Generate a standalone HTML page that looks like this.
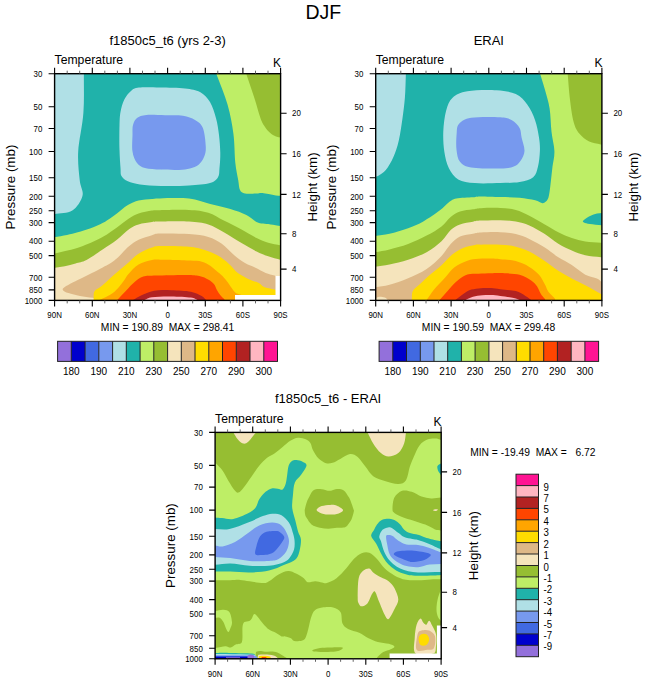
<!DOCTYPE html>
<html><head><meta charset="utf-8"><title>DJF Temperature</title>
<style>html,body{margin:0;padding:0;background:#fff;}svg{display:block;}</style></head>
<body><svg width="647" height="683" viewBox="0 0 647 683" font-family="'Liberation Sans', Arial, Helvetica, sans-serif" fill="#000">
<clipPath id="c1"><rect x="54.6" y="73.7" width="226" height="226.7"/></clipPath>
<g clip-path="url(#c1)">
<rect x="54.6" y="73.7" width="226" height="226.7" fill="#20B2AA"/>
<path d="M40 60L83.9 60C83.9 60 84.1 59.8 83.9 73C83.7 86.2 84.4 99.6 83.4 112.7C82.5 125.8 78.8 140.4 78.2 151.6C77.6 162.8 79 172.6 79.7 180C80.4 187.4 83.7 190.7 82.5 195.8C81.3 200.9 77 207.5 72.3 210.6C67.5 213.7 60.1 213.1 54 214.3C47.9 215.5 40 215 40 215L40 60Z" fill="#B0E0E6"/>
<path d="M124.2 99.7C126 96.2 128.5 93 131 91C133.5 89 134.2 88.2 139 87.6C143.8 87 152.3 87.4 160 87.5C167.7 87.6 178.3 87.7 185 88.4C191.7 89.2 195.8 89.7 200 92C204.2 94.3 207.3 97.6 210 102C212.7 106.4 214.5 112.8 216 118.3C217.5 123.8 218.3 129.2 219 135C219.7 140.8 220.2 147.5 220.3 153C220.4 158.5 219.9 164 219.5 168C219.1 172 219.6 174.7 218 177.2C216.4 179.7 214.8 181.6 210 183C205.2 184.4 197.2 185 189 185.5C180.8 186 169.2 186.1 161 185.9C152.8 185.7 145.5 185.3 140 184.5C134.5 183.7 131 182.7 127.9 181.3C124.8 179.9 122.7 178.2 121.5 176C120.3 173.8 120.8 172.3 120.5 168C120.2 163.7 119.7 157.1 119.5 150C119.3 142.9 119.3 131.9 119.5 125.6C119.7 119.3 119.7 116.3 120.5 112C121.3 107.7 122.5 103.2 124.2 99.7Z" fill="#B0E0E6"/>
<path d="M133 125C133.8 122.2 134.8 119.7 137 118C139.2 116.3 141.7 115.5 146.4 115C151.1 114.5 158.9 115.2 165 115.3C171.1 115.4 178 115 183 115.8C188 116.6 191.7 118 195 120C198.3 122 201.1 123.5 202.9 128C204.7 132.5 205.6 142.2 205.8 147C206 151.8 205.2 154.1 204 157C202.8 159.9 200.9 162.8 198.6 164.7C196.3 166.6 193.3 167.6 190 168.5C186.7 169.4 183.8 169.7 179 169.9C174.2 170.1 166.7 169.9 161 169.6C155.3 169.3 149 169.1 145 168C141 166.9 139.1 165.7 137 163C134.9 160.3 133.2 156.3 132.5 151.6C131.8 146.9 132.4 139.4 132.5 135C132.6 130.6 132.2 127.8 133 125Z" fill="#7799EE"/>
<path d="M216 60L290 60L290 195.5C290 195.5 280.4 196.3 275.9 195.5C271.4 194.7 265.6 193.3 262.4 193C259.2 192.7 259.5 193.4 256.6 193.5C253.7 193.6 247.8 194.1 245 193.5C242.2 192.9 241.1 192.2 240 190C238.9 187.8 239 184.6 238.2 180C237.4 175.4 236.1 170.4 235.3 162.7C234.5 155 234.7 143.5 233.4 133.8C232.1 124.2 230.5 114.9 227.6 104.8C224.7 94.7 219.9 83.6 216 73C212.1 62.4 214 60 214 60L216 60Z" fill="#BEEE66"/>
<path d="M244 60C244 60 243.1 64.3 246 73C248.9 81.7 252.3 91.5 254.7 99C257.1 106.5 258.8 113.6 260.5 118.3C262.2 123 263.4 124.6 265 127C266.6 129.4 268.2 131.2 270 132.8C271.8 134.4 274 135.7 276 136.5C278 137.3 280 137.2 282 137.6C284 138 290 137.6 290 137.6L290 60L244 60Z" fill="#96BE32"/>
<path d="M40 237.3C40 237.3 49.7 238.1 54 237.3C58.3 236.5 63 235.8 67 235C71 234.2 74 233.4 77.8 232.3C81.6 231.2 85.8 230.1 90 228.5C94.2 226.9 99.7 224.5 103 222.8C106.3 221.1 107.7 220.1 110 218.5C112.3 216.9 114.7 215.2 116.9 213.5C119.1 211.8 120.9 210 123 208.5C125.1 207 126.7 205.7 129.3 204.3C131.9 203 134.8 201.3 138.6 200.4C142.4 199.5 148.4 199.2 152 198.9C155.6 198.6 153.8 198.5 160 198.4C166.2 198.3 180.6 197.7 189 198.6C197.4 199.5 203.4 202.3 210.3 204.1C217.2 205.8 224.4 207.3 230.4 209.1C236.4 210.9 242.1 212.9 246.4 215.1C250.8 217.2 253.7 220.6 256.5 222C259.3 223.4 260.6 223.2 263 223.6C265.4 224 267.4 224 270.6 224.4C273.8 224.8 278.2 225.6 282 226.2C285.8 226.8 290 226.2 290 226.2L290 310L40 310L40 237.3Z" fill="#BEEE66"/>
<path d="M40 253.5C40 253.5 50.8 254.3 55 253.4C59.2 252.5 62.9 251.8 67.5 250.6C72.2 249.4 77 248.3 82.9 246C88.8 243.7 97.3 239.8 103 236.7C108.7 233.6 112.5 230.6 116.9 227.5C121.3 224.4 125.7 220.5 129.3 218.2C132.9 215.9 134.8 214.8 138.6 213.5C142.4 212.2 148.4 211.1 152 210.5C155.6 209.9 153.8 210.3 160 210.2C166.2 210.1 180.9 209.6 189 210C197.1 210.4 202.5 211 208.3 212.8C214.1 214.6 218.3 217.8 223.8 220.6C229.3 223.3 235.6 226.4 241.1 229.3C246.6 232.2 252.1 235.8 256.6 238C261.1 240.2 264 241.5 268.2 242.8C272.4 244.1 277.4 244.7 282 245.7C286.6 246.7 290 245.7 290 245.7L290 310L40 310L40 253.5Z" fill="#96BE32"/>
<path d="M40 267.9C40 267.9 51.7 268.3 55 267.8C58.3 267.3 61.4 266.9 64.8 266.2C68.2 265.5 72 264.4 75.6 263.4C79.2 262.4 81.9 262.4 86.5 260C91.1 257.6 97.9 252.7 103 249.3C108.1 245.9 112.5 243.2 116.9 239.8C121.3 236.4 125.7 231.6 129.3 229C132.9 226.4 134.8 225.6 138.6 224.4C142.4 223.2 148.4 222.5 152 222C155.6 221.5 153.8 221.6 160 221.5C166.2 221.4 180.9 221 189 221.5C197.1 222 202.5 222.6 208.3 224.4C214.1 226.2 218.3 229.1 223.8 232.2C229.3 235.3 235.6 239.6 241.1 242.8C246.6 246 252.1 249.2 256.6 251.5C261.1 253.8 264 254.9 268.2 256.3C272.4 257.8 277.4 258.9 282 260.2C286.6 261.5 290 260.2 290 260.2L290 310L40 310L40 267.9Z" fill="#F5E4BC"/>
<path d="M62.7 289.2C63 287.6 67.2 285.6 70.2 283.8C73.2 282 77.4 280.2 81 278.4C84.6 276.6 88.3 274.8 91.9 273C95.5 271.2 99.7 269 102.7 267.4C105.7 265.8 107.5 265.1 110 263.5C112.5 261.9 115.6 259.6 117.9 257.5C120.2 255.4 122.1 252.9 124 251C125.9 249.1 126.9 247.9 129.3 246C131.7 244.1 134.8 241.6 138.6 239.8C142.4 238 148.4 236.2 152 235.2C155.6 234.2 153.8 233.8 160 233.6C166.2 233.4 180.9 233.5 189 234.1C197.1 234.7 202.8 235.4 208.3 237C213.8 238.6 217.6 240.9 221.8 243.8C226 246.7 229.5 251.2 233.4 254.4C237.3 257.6 241.3 260.9 245 263.1C248.7 265.3 252.1 266.2 255.5 267.8C258.9 269.4 262.5 271.6 265.7 272.9C268.9 274.2 271.6 274.6 274.6 275.4C277.6 276.2 276 280 276 280L276 310L93 310C93 310 96.9 298.4 92.7 297.8C88.5 297.2 84 296.8 80 296C76 295.2 71.4 294.2 68.5 293.1C65.6 292 62.4 290.8 62.7 289.2Z" fill="#DEB887"/>
<path d="M93.6 310C93.6 310 93.3 302.9 93.6 300C93.9 297.1 93.1 293.7 94.5 291.3C95.9 288.9 98.7 288.4 101.9 285.7C105.1 283 109.8 278.5 113.8 275C117.8 271.5 122.1 268.2 126.2 264.6C130.3 261.1 134.3 256.5 138.6 253.7C142.9 250.9 148.4 248.9 152 247.6C155.6 246.3 153.8 246.2 160 246C166.2 245.8 181.5 246 189 246.7C196.5 247.4 200 248.5 204.8 250C209.6 251.5 213.8 253.3 217.8 255.6C221.8 257.9 225.6 261 229 263.9C232.4 266.8 234.7 270.6 238.2 273.2C241.7 275.8 246.6 278 250 279.7C253.4 281.4 256.6 281.9 258.9 283.1C261.2 284.3 261.4 285.8 264 286.9C266.6 287.9 271.1 288.6 274.6 289.4C278.1 290.2 276 295 276 295L276 310L93.6 310Z" fill="#FFDC00"/>
<path d="M99 310C99 310 97.3 301 99.5 300C101.7 299 103.7 298.2 106 297C108.3 295.8 111.3 294.2 113.5 292.5C115.7 290.8 117.2 289 119 287C120.8 285 122.4 282.8 124 280.6C125.6 278.4 126.1 276.7 128.5 274C130.9 271.3 134.7 267 138.6 264.6C142.5 262.2 147.6 260.7 152 259.9C156.4 259.1 159.2 259.7 165 259.8C170.8 259.9 180.9 260.2 186.6 260.4C192.3 260.6 195.6 260.4 199.3 261.1C203 261.8 205.8 263.2 208.6 264.8C211.4 266.4 213.7 268.5 216 270.4C218.3 272.3 220.7 274.1 222.5 276C224.3 277.9 225.6 279.5 227.1 281.5C228.6 283.5 230.3 286.1 231.7 288C233.1 289.9 234.1 291.6 235.5 292.7C236.9 293.8 238.6 293.9 240.1 294.5C241.6 295.1 245 297 245 297L245 310L99 310Z" fill="#FFA500"/>
<path d="M117.3 310C117.3 310 114.4 303.1 117.3 300C120.2 296.9 123.1 293.7 126 290.7C128.9 287.7 131.7 284.4 134.6 282C137.5 279.6 139.7 277.7 143.3 276.6C146.9 275.5 149.1 275.9 156.3 275.6C163.5 275.3 179.4 274.8 186.6 274.9C193.8 275 195.6 275.2 199.3 276C203 276.8 206.1 278.3 208.6 279.7C211.1 281.1 212.7 282.6 214.1 284.3C215.5 286 215.8 288 216.9 289.9C218 291.8 219.4 293.9 220.6 295.5C221.8 297.1 223.1 298 224.3 299.2C225.5 300.4 225 310 225 310L117.3 310Z" fill="#FF4500"/>
<path d="M132.5 310C132.5 310 130.3 301.5 133 300C135.7 298.5 137.5 297.1 141 295.5C144.5 293.9 149 291.6 154.1 290.7C159.2 289.8 165.3 290.1 171.4 290.3C177.5 290.5 185.9 290.8 190.9 291.8C195.9 292.8 199.2 294.7 201.7 296.1C204.2 297.5 204.6 298.7 206 300C207.4 301.3 206 310 206 310L132.5 310Z" fill="#B22222"/>
<path d="M144.4 310C144.4 310 141.9 300.9 144.4 300C146.9 299.1 147.4 297.8 151.9 297.2C156.4 296.6 164.9 296.4 171.4 296.5C177.9 296.6 186.6 297 190.9 297.6C195.2 298.2 195.2 299.2 197.4 300C199.6 300.8 197.4 310 197.4 310L144.4 310Z" fill="#FFB6C1"/>
<path d="M235 295L275.5 295L275.5 276L290 276L290 310L235 310L235 295Z" fill="#fff"/>
</g>
<clipPath id="c2"><rect x="375.7" y="73.7" width="226.2" height="226.7"/></clipPath>
<g clip-path="url(#c2)">
<rect x="375.7" y="73.7" width="226.2" height="226.7" fill="#20B2AA"/>
<path d="M365 60L405.9 60C405.9 60 406.2 64.7 405.9 73C405.6 81.3 405.5 90.3 404.9 97.8C404.3 105.3 403.5 111.1 402.5 118.2C401.5 125.3 400.3 134 398.8 140.5C397.3 147 395.5 152.3 393.3 157.2C391.1 162.1 388.3 167 385.8 170.1C383.3 173.2 380.2 174.6 378.4 175.7C376.6 176.8 376.1 176.3 375 176.6C373.9 176.9 365 176.6 365 176.6L365 60Z" fill="#B0E0E6"/>
<path d="M446.1 110.8C447.7 105.2 449.1 101 452.6 97.8C456.2 94.5 460.1 92.5 467.4 91.3C474.7 90 488.4 89.8 496.5 90.3C504.6 90.8 510.6 91.7 515.8 94.1C520.9 96.5 524.2 100.4 527.4 104.8C530.6 109.2 533.2 114.7 535.1 120.2C537 125.7 538.2 132.4 539 137.6C539.8 142.8 540.1 146.3 539.9 151.1C539.7 155.9 539.1 162.2 538 166.6C536.9 170.9 536.3 174.6 533.2 177.2C530.1 179.8 525.1 181.1 519.6 182.1C514.1 183.1 507.8 182.8 500.3 183C492.9 183.2 481.9 183.7 474.9 183.1C467.9 182.5 462.5 181.9 458.2 179.4C453.9 176.9 451.2 172.9 448.9 168.3C446.6 163.7 445.2 157.8 444.3 151.6C443.4 145.4 443 138 443.3 131.2C443.6 124.4 444.6 116.4 446.1 110.8Z" fill="#B0E0E6"/>
<path d="M456.7 133C457.1 128.7 456.7 126.3 459.1 123.8C461.5 121.3 464.2 118.9 471.1 117.8C478 116.7 493.5 116.9 500.3 117.3C507.1 117.7 508.7 118.4 511.9 120.2C515.1 122 518 125.1 519.6 128C521.2 130.9 520.8 133.8 521.6 137.6C522.4 141.4 524.7 147.2 524.5 151.1C524.3 155 522.4 158.2 520.6 160.8C518.8 163.4 517.2 165.3 513.8 166.6C510.4 167.9 507.4 168.4 500.3 168.5C493.2 168.6 477.8 168.5 471.1 167.4C464.4 166.3 462.4 164.8 460 161.8C457.6 158.9 457.1 154.5 456.5 149.7C455.9 144.9 456.3 137.3 456.7 133Z" fill="#7799EE"/>
<path d="M538 60C538 60 538.3 67.6 539.9 73C541.5 78.4 543.2 83.4 544.8 89.3C546.4 95.2 548.5 101.5 549.6 108.6C550.7 115.7 550.7 124.7 551.5 131.8C552.3 138.9 554.2 145.3 554.4 151.1C554.6 156.9 553.1 161.8 552.5 166.6C551.9 171.4 551.5 175.8 551 180C550.5 184.2 550.1 188.4 549.6 191.6C549.1 194.8 548.8 197.4 547.7 199.3C546.6 201.2 544.9 203 542.8 203.2C540.7 203.4 539 201.2 535.1 200.3C531.2 199.4 525.4 198.4 519.6 197.8C513.8 197.2 506.7 197.2 500.3 197C493.9 196.8 485.6 196.4 481 196.4C476.4 196.4 477.1 196.8 473 197.2C468.9 197.5 460.3 197.7 456.3 198.5C452.3 199.3 451.7 200.3 448.9 202.3C446.1 204.3 443.9 207.4 439.6 210.6C435.3 213.8 428.1 218.8 422.9 221.7C417.6 224.6 413.7 226.2 408.1 228.2C402.5 230.2 395 232.5 389.5 233.8C384 235.1 379.8 235.3 375 236C370.2 236.7 365 236 365 236L365 310L610 310L610 60L538 60Z" fill="#BEEE66"/>
<path d="M583.4 220.6C584.4 219.5 587.7 217.2 590 216C592.3 214.8 594.8 214 597 213.5C599.2 213 601 213 603 212.8C605 212.6 608 212.8 608 212.8L608 225.4C608 225.4 607.3 225.9 603 225.4C598.7 224.9 593.2 224.5 590 224C586.8 223.5 585.1 223.1 584 222.5C582.9 221.9 582.4 221.7 583.4 220.6Z" fill="#20B2AA"/>
<path d="M566 60C566 60 566.8 64.3 567.6 73C568.4 81.7 568.9 90.8 569.9 99C570.9 107.2 572.1 116.4 573.7 122.2C575.3 128 576.9 130.6 579.5 133.8C582.1 137 585.7 139.7 589.2 141.5C592.8 143.3 596.9 143.4 600.8 144.4C604.7 145.4 610 144.4 610 144.4L610 60L566 60Z" fill="#96BE32"/>
<path d="M365 252.5C365 252.5 370.2 253.2 375 252.3C379.8 251.4 384 250.9 389.5 249.5C395 248.1 401.9 246.3 408.1 244C414.3 241.7 421 238.5 426.6 235.6C432.2 232.7 437.5 229.5 441.5 226.4C445.5 223.3 447.6 219.6 450.7 217.1C453.8 214.6 456.3 212.8 460 211.5C463.7 210.2 469.5 209.9 473 209.3C476.5 208.8 476.4 208.4 481 208.2C485.6 208 494.5 207.7 500.3 208C506.1 208.3 511 208.7 515.8 210C520.6 211.3 524.5 213.3 529.3 215.7C534.1 218.1 540 221.7 544.8 224.4C549.6 227.2 553.8 229.9 558.3 232.2C562.8 234.5 567.3 236.5 571.8 238C576.3 239.5 580.4 240.6 585.3 241.4C590.2 242.2 595.8 242.3 601 242.8C606.2 243.3 610 242.8 610 242.8L610 310L365 310L365 252.5Z" fill="#96BE32"/>
<path d="M365 267C365 267 370.2 267.6 375 266.8C379.8 266 384 265.6 389.5 264.4C395 263.2 401.9 261.7 408.1 259.7C414.3 257.7 421 255.4 426.6 252.3C432.2 249.2 437.5 244.9 441.5 241.2C445.5 237.5 447.6 232.9 450.7 230.1C453.8 227.3 456.3 225.9 460 224.5C463.7 223.1 469.5 222.3 473 221.7C476.5 221 476.4 220.8 481 220.6C485.6 220.3 494.5 220 500.3 220.2C506.1 220.3 511 220.6 515.8 221.5C520.6 222.4 524.5 223.3 529.3 225.4C534.1 227.5 540 231 544.8 234.1C549.6 237.2 553.8 241.1 558.3 243.8C562.8 246.5 567.3 248.6 571.8 250.5C576.3 252.4 580.4 254.2 585.3 255.3C590.2 256.4 595.8 256.6 601 257.3C606.2 258 610 257.3 610 257.3L610 310L365 310L365 267Z" fill="#F5E4BC"/>
<path d="M365 287.4C365 287.4 370.2 288 375 287.2C379.8 286.4 384 286.3 389.5 284.8C395 283.3 401.9 280.9 408.1 278.3C414.3 275.7 421 272.7 426.6 269C432.2 265.3 437.5 260.2 441.5 256C445.5 251.8 447.6 247.2 450.7 244C453.8 240.8 456.3 238.3 460 236.6C463.7 234.9 469.5 234.5 473 233.8C476.5 233.1 476.4 232.8 481 232.5C485.6 232.2 494.5 231.9 500.3 232.2C506.1 232.5 511 233 515.8 234.1C520.6 235.2 524.5 236.7 529.3 238.9C534.1 241.2 540 244.5 544.8 247.6C549.6 250.7 553.8 254.4 558.3 257.3C562.8 260.2 567.3 262.1 571.8 265C576.3 267.9 581.1 272.4 585.3 274.7C589.5 276.9 594.3 277.4 596.9 278.5C599.5 279.6 599.6 280.4 601 281.4C602.4 282.4 610 283 610 283L610 310L365 310L365 287.4Z" fill="#DEB887"/>
<path d="M376 301C374.3 300.4 376.2 298.2 377 297.5C377.8 296.8 379.5 296.7 381 296.8C382.5 296.9 384.8 297.3 385.8 298C386.8 298.7 388.6 300.5 387 301C385.4 301.5 377.7 301.6 376 301Z" fill="#F5E4BC"/>
<path d="M411.5 310C411.5 310 411.5 302.9 411.8 300C412.1 297.1 411.5 293.8 412.7 291.3C413.9 288.8 416.3 287.6 419.2 284.8C422.1 282 426.6 277.9 430.3 274.6C434 271.4 437.8 268.7 441.5 265.3C445.2 261.9 448.9 257.1 452.6 254.2C456.3 251.3 460 249.2 463.7 247.7C467.4 246.1 472 245.4 474.9 244.9C477.8 244.4 476.8 244.7 481 244.7C485.2 244.7 494.5 244.4 500.3 244.7C506.1 245 511 245.6 515.8 246.7C520.6 247.8 524.5 249.1 529.3 251.5C534.1 253.9 540 257.9 544.8 261.1C549.6 264.3 553.8 267.9 558.3 270.8C562.8 273.7 567.3 276.1 571.8 278.5C576.3 280.9 580.4 282.7 585.3 285.3C590.2 287.9 595.8 291.1 601 294C606.2 296.9 610 296 610 296L610 310L411.5 310Z" fill="#FFDC00"/>
<path d="M426.3 310C426.3 310 424.1 303.5 426.6 300C429.1 296.5 431 293.2 434.1 289.4C437.2 285.6 441.8 281.1 445.2 277.4C448.6 273.7 450.8 270 454.5 267.2C458.2 264.4 463.4 262.1 467.4 260.7C471.4 259.3 474.7 259.1 478.6 258.8C482.5 258.5 487.4 258.5 491 258.6C494.6 258.7 496.2 258.8 500.3 259.2C504.4 259.6 511 259.8 515.8 261.1C520.6 262.4 525.4 264.6 529.3 266.9C533.2 269.2 536.4 271.8 539 274.7C541.6 277.6 543.2 281.4 544.8 284.3C546.4 287.2 547 289.8 548.6 292.1C550.2 294.4 552.5 296 554.4 297.9C556.3 299.8 556 310 556 310L426.3 310Z" fill="#FFA500"/>
<path d="M439.3 310C439.3 310 436.5 303.5 439.6 300C442.7 296.5 445.8 292.7 448.9 289.4C452 286.1 455.1 282.6 458.2 280.1C461.3 277.6 464 275.7 467.4 274.6C470.8 273.5 474.7 273.9 478.6 273.7C482.5 273.5 487.4 273.4 491 273.3C494.6 273.2 495.5 272.9 500.3 273.1C505.1 273.3 514.5 273.5 519.6 274.7C524.8 275.9 528.3 278.6 531.2 280.5C534.1 282.4 535.4 284.1 537 286.3C538.6 288.6 539.6 291.9 540.9 294C542.2 296.1 543.5 297.2 544.8 298.8C546.1 300.4 546 310 546 310L439.3 310Z" fill="#FF4500"/>
<path d="M455.2 310C455.2 310 453.2 301.7 455.4 300C457.6 298.3 459.6 296.6 461.9 295C464.2 293.4 466.5 291.4 469.3 290.3C472.1 289.2 475 288.9 478.6 288.5C482.2 288.1 487.4 288 491 288.1C494.6 288.2 496.2 288.7 500.3 289.2C504.4 289.7 511.6 290 515.8 291.1C520 292.2 522.8 294.4 525.4 295.9C528 297.4 529.3 298.6 531.2 300C533.1 301.4 532 310 532 310L455.2 310Z" fill="#B22222"/>
<path d="M465.4 310C465.4 310 463.1 301.1 465.6 300C468.1 298.9 470.2 297.6 473 296.8C475.8 296 479.3 295.6 482.3 295.3C485.3 295 488 294.9 491 295C494 295.1 496.5 295.4 500.3 295.9C504.1 296.4 510.6 297.2 513.8 297.9C517 298.6 517.7 299.3 519.6 300C521.5 300.7 520 310 520 310L465.4 310Z" fill="#FFB6C1"/>
</g>
<clipPath id="c3"><rect x="215.1" y="432.4" width="226.1" height="226.4"/></clipPath>
<g clip-path="url(#c3)">
<rect x="215.1" y="432.4" width="226.1" height="226.4" fill="#96BE32"/>
<path d="M205 462.5C205 462.5 212.6 459.9 215 462.5C217.4 465.1 220.1 467.1 222.3 470.2C224.6 473.3 226.4 477.6 228.5 481C230.6 484.4 232.9 488.4 234.6 490.3C236.3 492.2 236.9 493.1 238.5 492.6C240.1 492.1 241.7 489.9 243.9 487.2C246.1 484.5 249 480 251.6 476.4C254.2 472.8 256.8 468.6 259.4 465.5C262 462.4 264.5 459.9 267.1 457.8C269.7 455.8 272.2 455 274.8 453.2C277.4 451.4 280 449.1 282.6 447C285.2 444.9 287.7 442.4 290.3 440.8C292.9 439.2 295.4 437.9 298 437.7C300.6 437.4 303.6 438.4 305.7 439.3C307.8 440.2 309.2 441.3 310.4 443.1C311.6 444.9 311.6 447.7 313 450.3C314.4 452.9 316.4 456.5 318.6 458.6C320.8 460.8 323.7 462.5 326 463.2C328.3 463.9 330.2 463.5 332.6 462.8C335 462.1 337.4 460.3 340.3 458.9C343.2 457.4 347.1 454.4 350 454.1C352.9 453.8 355.1 454.9 357.7 457C360.3 459.1 362.8 463.4 365.4 466.6C368 469.8 370 473.9 373.2 476.3C376.4 478.7 380.6 479.8 384.8 481.1C389 482.4 394.8 484.1 398.3 484C401.8 483.9 404.1 483.1 406 480.2C407.9 477.3 408.6 470.5 409.9 466.6C411.2 462.7 412.1 460.5 413.7 457C415.3 453.5 417.2 448.3 419.5 445.4C421.8 442.5 424.7 440.7 427.3 439.6C429.9 438.5 432.9 438.6 435 438.6C437.1 438.6 438.6 439.2 439.8 439.6C441 440 441.3 440.5 442 441C442.7 441.5 450 441 450 441L450 600L205 600L205 462.5Z" fill="#BEEE66"/>
<path d="M231 425C231 425 231.6 429.6 233.1 432C234.6 434.4 236 437.4 237.7 439.3C239.4 441.2 241.3 443.2 243.1 443.6C244.9 444 246.3 443.5 248.5 441.6C250.7 439.7 253.7 435.2 256.3 432C258.9 428.8 258 425 258 425L231 425Z" fill="#F5E4BC"/>
<path d="M366 425C366 425 365.5 428.2 367.4 432C369.3 435.8 370.9 440 373.2 443.5C375.4 447 378.3 450.9 380.9 453.1C383.5 455.3 385.7 456.6 388.6 456.6C391.5 456.6 395.7 455.3 398.3 453.1C400.9 450.9 402.8 447 404.1 443.5C405.4 440 405.4 435.8 406 432C406.6 428.2 407 425 407 425L366 425Z" fill="#F5E4BC"/>
<path d="M437.5 466C437 467.2 437.4 469 438 470.5C438.6 472 440 473.5 441 475C442 476.5 445 475 445 475L445 463.5C445 463.5 442.2 462.7 441 463.5C439.8 464.3 438 464.8 437.5 466Z" fill="#20B2AA"/>
<path d="M304.7 510C304.7 510 306.4 501.7 308.1 498.9C309.8 496.1 311.2 492 313.2 490.4C315.2 488.8 317.7 489 320 489C322.3 489 324.9 490.1 326.8 490.4C328.7 490.7 329.4 490.9 331.1 490.7C332.8 490.5 334.9 489.1 337 489C339.1 488.9 341.8 489 343.8 490.4C345.8 491.8 347.2 494.9 348.9 497.2C350.6 499.5 354 510.8 354 510.8C354 510.8 352.3 519 350.6 521C348.9 523 347.8 525.9 345.5 527C343.2 528.1 339.8 527.5 337 527.8C334.2 528.1 331.3 528.7 328.5 528.7C325.7 528.7 322.8 528.5 320 527.8C317.2 527.1 313.8 526.1 311.5 524.4C309.2 522.7 308.1 519.9 306.4 517.6C304.7 515.3 304.7 510 304.7 510Z" fill="#96BE32"/>
<path d="M316.6 510C316.6 508.8 319.4 507 321.7 506.1C324 505.2 327.6 505 330.2 504.9C332.8 504.8 334.9 504.8 337 505.7C339.1 506.6 342.7 508.7 343 510C343.3 511.3 340.8 512.6 338.7 513.4C336.6 514.2 333 514.6 330.2 514.6C327.4 514.6 324 514.2 321.7 513.4C319.4 512.6 316.6 511.2 316.6 510Z" fill="#F5E4BC"/>
<path d="M392.5 509.1C392.5 506.5 392.8 500.7 394.4 497.6C396 494.6 399.2 491.8 402.1 490.8C405 489.8 408.6 490.8 411.8 491.8C415 492.8 418.3 495.5 421.5 496.6C424.7 497.7 427.9 498.3 431.1 498.5C434.4 498.7 437.7 497.9 441 497.6C444.3 497.3 450 497.6 450 497.6L450 530.4C450 530.4 443 530.7 441 530.4C439 530.1 437.6 530.4 435 529.4C432.4 528.4 428.9 526 425.3 524.6C421.8 523.2 417.6 522 413.7 520.7C409.8 519.4 405.3 518.2 402.1 516.9C398.9 515.6 396 514.3 394.4 513C392.8 511.7 392.5 511.7 392.5 509.1Z" fill="#96BE32"/>
<path d="M433 510.2C432.8 509.9 434.2 509.3 435 509.2C435.8 509.1 437.8 509.3 438 509.6C438.2 509.9 436.8 510.9 436 511C435.2 511.1 433.2 510.5 433 510.2Z" fill="#F5E4BC"/>
<path d="M205 517.4C205 517.4 212.6 517.2 215 517.4C217.4 517.6 219 517.8 222.1 518C225.2 518.2 229 519.7 233.3 518.9C237.6 518.1 244.4 515.2 248.1 513.3C251.8 511.4 253.6 510.1 255.5 507.7C257.4 505.3 257.7 501.6 259.4 499C261.1 496.4 263.6 493.6 265.6 491.8C267.7 490 269.6 488.9 271.7 488.4C273.8 487.9 276.1 488.5 277.9 488.7C279.7 488.9 281.3 490.3 282.6 489.5C283.9 488.7 284.8 486.6 285.6 484.1C286.4 481.7 286.7 477.9 287.2 474.8C287.7 471.7 287.9 467.8 288.7 465.5C289.5 463.2 290.7 461.9 292 461C293.3 460.1 294.7 460 296.5 460.1C298.3 460.2 300.9 460.8 302.6 461.7C304.3 462.6 306.8 463.3 306.5 465.5C306.2 467.7 303 471.9 301.1 474.8C299.2 477.7 296.2 479.3 294.9 482.6C293.5 485.9 293.4 490.6 293 494.8C292.6 499 291.8 503.4 292.2 507.7C292.6 512 294.4 516.7 295.4 520.7C296.4 524.7 297.3 528.9 298.2 531.9C299.1 534.9 300.6 536.1 300.9 539C301.2 541.9 300.7 546 299.9 549.3C299.1 552.6 298.6 556.4 296 559C293.4 561.6 288.9 562.9 284.4 564.8C279.9 566.7 274.8 569.3 269 570.6C263.2 571.9 256.1 572.4 249.6 572.5C243.2 572.6 236.1 571.7 230.3 571.5C224.5 571.3 220.1 571.5 215 571.5C209.9 571.5 205 571.5 205 571.5L205 517.4Z" fill="#20B2AA"/>
<path d="M205 529.1C205 529.1 210.2 529.1 215 529.1C219.8 529.1 224 530.2 229.5 529.1C235 528 242.5 524.8 248.1 522.6C253.7 520.4 258.9 517.6 262.9 516.1C266.9 514.6 269.1 513.9 272.2 513.7C275.3 513.6 278.7 513.7 281.5 515.2C284.3 516.7 287 519.8 288.9 522.6C290.8 525.4 291.7 529 292.6 531.9C293.5 534.8 294.2 537.1 294.5 540C294.8 542.9 294.8 546.5 294.1 549.3C293.4 552.1 291.8 554.9 290.2 557C288.6 559.1 287.9 560.4 284.4 561.9C280.9 563.4 274.8 565.1 269 565.7C263.2 566.3 256.1 566.1 249.6 565.7C243.2 565.3 236.1 563.6 230.3 563.5C224.5 563.4 220.1 564.4 215 564.8C209.9 565.2 205 564.8 205 564.8L205 529.1Z" fill="#B0E0E6"/>
<path d="M205 545.5C205 545.5 212.5 545.2 215 545.5C217.5 545.8 219.3 547 222.6 546.4C225.9 545.8 230.8 544.2 235 542C239.2 539.8 244.1 535.8 248.1 533C252.1 530.2 255.2 527.1 259.2 525.4C263.2 523.7 268.5 522.6 272.2 522.6C275.9 522.6 279 523.5 281.5 525.4C284 527.2 285.8 531 287 533.7C288.2 536.4 289.1 538.7 289 541.6C288.9 544.5 288.1 548.4 286.4 551.3C284.7 554.2 281.5 557.4 278.6 559C275.7 560.6 273.8 560.6 269 560.9C264.2 561.2 256.1 561.4 249.6 560.9C243.2 560.4 236.1 558.6 230.3 558C224.5 557.4 220.1 557.3 215 557C209.9 556.7 205 557 205 557L205 545.5Z" fill="#7799EE"/>
<path d="M255.4 554.2C254.5 552.7 255.8 548.8 256.5 546C257.1 543.2 258.2 539.8 259.3 537.7C260.4 535.6 261.6 534.5 263 533.5C264.4 532.5 266 531.9 268 531.5C270 531.1 272.9 530.9 274.8 531C276.7 531.1 278 530.9 279.6 531.9C281.2 532.9 284 535.1 284.3 537C284.6 538.9 283.1 540.6 281.5 543C279.9 545.4 276.9 549.4 274.8 551.3C272.7 553.2 271.1 553.6 269 554.2C266.9 554.8 264.3 555 262 555C259.7 555 256.3 555.7 255.4 554.2Z" fill="#4169E1"/>
<path d="M371.2 535.9C370.8 533.6 373 531.9 374 530C375 528.1 375.8 526.2 377 524.6C378.2 523 379.4 521.5 381 520.5C382.6 519.5 384.5 518.9 386.7 518.8C388.9 518.7 392.1 519 394.4 520C396.6 521 398.6 522.9 400.2 524.5C401.8 526.1 402.6 528.4 404.2 529.8C405.8 531.2 407.6 532.3 409.9 533.1C412.2 533.9 415.4 534.1 418 534.8C420.6 535.5 422.2 536.5 425.3 537.5C428.4 538.5 434.3 539.9 436.9 540.5C439.5 541.1 439.6 541 441 541.2C442.4 541.4 450 541.2 450 541.2L450 575C450 575 443.6 574.8 441 575C438.4 575.2 436.9 575.4 433.1 575.5C429.3 575.6 422.1 575.8 418 575.7C413.9 575.6 411.5 575.6 408.3 574.9C405.1 574.2 401.4 573 398.6 571.7C395.8 570.4 393.5 568.6 391.3 566.9C389.1 565.1 387.4 563.5 385.7 561.2C384 558.9 382.5 556.2 380.9 553.2C379.3 550.2 377.7 546.4 376.1 543.5C374.5 540.6 371.6 538.1 371.2 535.9Z" fill="#20B2AA"/>
<path d="M379.3 536.3C379.6 534.4 381 531.3 382.5 529.8C384 528.3 386.5 527.7 388.1 527.4C389.7 527.1 390.4 527.2 392.2 528.2C393.9 529.2 396.6 531.6 398.6 533.1C400.6 534.6 401.9 536.1 404.2 537.1C406.5 538.1 410 538.6 412.3 539.1C414.6 539.6 415.4 539.3 418 540C420.6 540.7 424.9 542.2 428 543.5C431.1 544.8 434.7 546.5 436.9 547.5C439.1 548.5 439.6 548.8 441 549.5C442.4 550.2 450 549.5 450 549.5L450 572C450 572 444.9 571.9 441 572C437.1 572.1 433 572.1 429.2 572.2C425.4 572.3 421.5 572.6 418 572.5C414.5 572.4 411.3 572 408.3 571.3C405.3 570.6 402.6 569.6 400.2 568.5C397.8 567.4 395.8 566.1 393.8 564.5C391.8 562.9 389.7 560.9 388.1 558.8C386.5 556.6 385.3 554.5 384.1 551.6C382.9 548.7 381.7 543.7 380.9 541.1C380.1 538.5 379 538.2 379.3 536.3Z" fill="#B0E0E6"/>
<path d="M386.1 536.3C386.4 534.6 387.8 535.1 388.9 535.1C390 535.1 391.8 535.6 393 536.3C394.2 537 394.7 538 396.2 539.1C397.7 540.2 399.8 541.8 401.8 542.7C403.8 543.6 405.6 544.3 408.3 544.7C411 545.1 414.7 544.6 418 545.1C421.3 545.6 425 546.6 428 547.5C431 548.4 433.8 549.7 436 550.5C438.2 551.3 439.3 551.7 441 552.3C442.7 552.9 450 552.3 450 552.3L450 564C450 564 444.8 563.8 441 564C437.2 564.2 433.3 564.1 429.5 564.6C425.7 565.1 421.8 567 418 567.2C414.2 567.5 409.8 566.8 406.6 566.1C403.4 565.4 401 564.1 398.6 562.8C396.2 561.4 393.8 559.7 392.2 558C390.6 556.3 389.7 554.5 388.9 552.4C388.1 550.2 387.8 547.8 387.3 545.1C386.8 542.4 385.8 538 386.1 536.3Z" fill="#7799EE"/>
<path d="M393.8 554.4C393.3 553.3 395.3 552.2 397 551.6C398.7 551 401.4 550.9 404.2 550.8C407 550.6 410.6 550.5 414 550.7C417.4 551 421.5 551.6 424.3 552.3C427.1 553 430.8 553.6 430.8 554.9C430.8 556.2 427.1 558.8 424.3 560C421.5 561.2 416.7 561.8 414 562C411.3 562.2 410.6 561.9 408.3 561.2C406 560.5 402.6 559.1 400.2 558C397.8 556.9 394.3 555.5 393.8 554.4Z" fill="#4169E1"/>
<path d="M205 580.2C205 580.2 209.9 580.2 215 580.2C220.1 580.2 226.1 580.2 230.3 580.2C234.5 580.2 236.8 579.7 240 579.9C243.2 580.1 245.7 580.7 249.6 581.2C253.5 581.7 260 583.1 263.2 583.1C266.4 583.1 266.4 582.7 269 581.2C271.6 579.8 275.4 576.1 278.6 574.4C281.8 572.7 285.4 571.1 288.3 571C291.2 570.9 293.4 572.3 296 573.5C298.6 574.7 301.9 576.8 303.8 578.3C305.7 579.8 305.7 581.7 307.6 582.2C309.5 582.7 312.9 581.2 315.3 581.2C317.7 581.2 320.1 582.2 322 582.5C323.9 582.8 324.4 583.8 326.8 583.1C329.2 582.4 333.3 580.7 336.5 578.3C339.7 575.9 343.2 571.8 346.1 568.6C349 565.4 351.2 561.6 353.8 559C356.4 556.4 359 554.2 361.6 553.2C364.2 552.2 366.7 551.8 369.3 552.8C371.9 553.8 374.4 556.4 377 559C379.6 561.6 381.9 565.9 384.8 568.6C387.7 571.3 390.9 573.5 394.4 575.4C397.9 577.3 401.5 579 406 579.8C410.5 580.6 417 580.3 421.5 580.2C426 580.1 429.9 579.4 433.1 579.3C436.4 579.1 438.4 579.3 441 579.3C443.6 579.3 450 579.3 450 579.3L450 670L205 670L205 580.2Z" fill="#96BE32"/>
<path d="M357.7 597.6C357.7 593.4 357.7 582.8 358.7 578.3C359.7 573.8 361.7 572.2 363.5 570.6C365.3 569 367.7 568.3 369.3 568.6C370.9 568.9 371.3 571 373.2 572.5C375.1 574 378.3 575.8 380.9 577.3C383.5 578.8 386.4 579.4 388.6 581.2C390.9 583 392.8 584.9 394.4 588C396 591.1 398.3 596.1 398.3 599.6C398.3 603.1 396 606 394.4 609.2C392.8 612.4 390.2 617.9 388.6 618.9C387 619.9 386.4 617.9 384.8 615C383.2 612.1 380.6 605.4 379 601.5C377.4 597.6 376.2 593.1 375.1 591.8C374 590.5 373.5 591.9 372.2 593.8C370.9 595.7 369.2 601.3 367.4 603.4C365.6 605.5 363.1 606.3 361.6 606.3C360.2 606.3 359.4 604.8 358.7 603.4C358 602 357.7 601.8 357.7 597.6Z" fill="#F5E4BC"/>
<path d="M441 589C439.8 592.7 438.2 596.5 437.5 600C436.8 603.5 436.4 607.2 436.5 610C436.6 612.8 437.2 615.2 438 617C438.8 618.8 440 619.7 441 621C442 622.3 450 621 450 621L450 589C450 589 442.2 585.3 441 589Z" fill="#BEEE66"/>
<path d="M205 611C205 611 212.2 611.4 215 611C217.8 610.6 221 609.6 223.4 609.8C225.8 610 228.1 610.2 229.5 612.3C230.9 614.3 231.8 619.5 232 622.1C232.2 624.7 231.1 626.4 230.5 628C229.9 629.6 229.2 631.7 228.5 632C227.8 632.3 227.3 631.2 226.5 629.6C225.7 628 224.5 624.1 223.4 622.1C222.3 620.1 221.1 618.5 219.7 617.8C218.3 617.1 216.6 617.8 215 617.8C213.4 617.8 205 617.8 205 617.8L205 611Z" fill="#BEEE66"/>
<path d="M205 648.1C205 648.1 213 648.5 215 648.1C217 647.7 219.1 647.2 220.9 646.9C222.7 646.6 224.2 646.1 225.8 646.2C227.5 646.3 229.2 647.8 230.8 647.5C232.5 647.2 233.8 645.3 235.7 644.4C237.5 643.5 240.8 644.8 241.9 641.9C243 639 242.1 630.4 242.5 627.1C242.9 623.8 243.3 623.1 244.4 622.1C245.5 621.1 248.1 621.5 249.3 620.9C250.5 620.3 251 619.5 251.8 618.4C252.6 617.3 253.3 614.3 254.3 614.1C255.3 613.9 256.6 615.7 258 617.2C259.4 618.8 261 621.3 262.9 623.4C264.8 625.5 267 628.1 269.1 629.6C271.2 631.1 273.2 631.5 275.3 632.6C277.4 633.7 279.9 635.8 281.5 636.4C283.1 637 283.6 636.1 285.2 636.4C286.8 636.7 289.5 637.4 291 638.2C292.5 639 292.2 640.7 294.3 641C296.4 641.3 301.3 641.5 303.5 640.1C305.7 638.7 306.1 636.4 307.3 632.7C308.6 629 309.8 621.5 311 617.8C312.2 614.1 312.8 612.1 314.7 610.4C316.6 608.7 319 608.1 322.1 607.6C325.2 607.1 330.1 606.8 333.2 607.6C336.3 608.4 339.1 609.7 340.6 612.3C342.2 614.9 341.2 620.6 342.5 623.4C343.8 626.2 345.3 627.3 348.1 628.9C350.9 630.5 355.8 631.2 359.2 632.7C362.6 634.2 365.4 636.7 368.5 638.2C371.6 639.7 374.3 641 377.7 641.9C381.1 642.8 386.1 643 388.9 643.8C391.7 644.6 394.1 645.7 394.4 646.6C394.7 647.5 392.5 648.4 390.7 649.3C388.9 650.2 385.5 650.9 383.3 652.1C381.1 653.4 379.6 655.2 377.7 656.8C375.8 658.4 377 670 377 670L205 670L205 648.1Z" fill="#BEEE66"/>
<path d="M312.8 650C313.8 649.4 317.1 648.4 320 648C322.9 647.6 326.2 647.6 330 647.5C333.8 647.4 341.2 646.9 342.5 647.5C343.8 648.1 340.9 650.2 338 651C335.1 651.8 329 651.9 325 652C321 652.1 316 651.8 314 651.5C312 651.2 311.8 650.6 312.8 650Z" fill="#96BE32"/>
<path d="M256 670C256 670 255.1 651.9 256.3 651.7C257.5 651.5 258.6 651.1 260 651.1C261.4 651.1 263 651.7 264.9 651.7C266.8 651.8 269 651.3 271.1 651.4C273.2 651.5 275.2 651.6 277.3 652.4C279.4 653.2 281.9 655.1 283.5 656.1C285.1 657.1 286 657.7 287.2 658.5C288.4 659.3 288 670 288 670L256 670Z" fill="#96BE32"/>
<path d="M258 670C258 670 256.6 654.9 258.7 654.8C260.8 654.7 262.4 654.5 264.9 654.6C267.4 654.7 271.3 654.9 273.6 655.5C275.9 656.1 276.9 657.5 278.5 658.5C280.1 659.5 279 670 279 670L258 670Z" fill="#F5E4BC"/>
<path d="M259 670C259 670 257.7 656.1 259.5 656C261.3 655.9 263.2 655.7 265 655.8C266.8 655.9 268.3 656.3 270 656.5C271.7 656.7 271 670 271 670L259 670Z" fill="#FFDC00"/>
<path d="M261 670C261 670 260.7 657 262 657C263.3 657 264.7 657 266 657C267.3 657 267 670 267 670L261 670Z" fill="#FF4500"/>
<path d="M205 653L215 653C215 653 222.3 652.6 225 652.7C227.7 652.8 229.7 652.9 233 653C236.3 653.1 241.6 653.2 245 653.3C248.4 653.4 251.8 653.5 253.5 653.8C255.2 654.1 254.5 654.6 255 655C255.5 655.4 255.5 670 255.5 670L205 670L205 653Z" fill="#20B2AA"/>
<path d="M205 654.2C205 654.2 220 653.9 225 654C230 654.1 235.2 654.2 240 654.3C244.8 654.4 249.3 654.6 254 654.8C258.7 655 254.5 670 254.5 670L205 670L205 654.2Z" fill="#B0E0E6"/>
<path d="M205 655.2C205 655.2 222 655.1 230 655.2C238 655.3 246 655.3 254 655.4C262 655.5 254.5 670 254.5 670L205 670L205 655.2Z" fill="#7799EE"/>
<path d="M205 656L254 656L254 670L205 670L205 656Z" fill="#4169E1"/>
<path d="M205 656.8L254 656.8L254 670L205 670L205 656.8Z" fill="#0000CD"/>
<path d="M226 670L226 657.3L240 657.3L240 670L226 670Z" fill="#9370DB"/>
<path d="M247.5 670C247.5 670 247.1 655.8 247.8 655.5C248.5 655.2 249.1 654.7 250 654.6C250.9 654.5 252 654.9 253 655C254 655.1 254 657 254 657L254 670L247.5 670Z" fill="#9370DB"/>
<path d="M415.7 653.6C412.6 651 414.5 643 414.7 638.2C414.9 633.4 415.6 628 416.6 624.7C417.6 621.4 419.4 618.8 420.5 618.5C421.6 618.2 422.4 621.7 423.4 622.7C424.4 623.7 425.3 625 426.3 624.7C427.3 624.4 428.2 620.6 429.2 620.8C430.2 620.9 431 623.4 432.1 625.6C433.2 627.9 435.4 630.9 436 634.3C436.6 637.7 436.5 642.7 436 645.9C435.5 649.1 436.5 652.3 433.1 653.6C429.7 654.9 418.8 656.2 415.7 653.6Z" fill="#F5E4BC"/>
<path d="M416.6 649.8C415 647.2 416.8 637.5 417.6 634.3C418.4 631.1 419.6 631.1 421.5 630.5C423.4 629.9 426.9 629.5 429.2 630.5C431.4 631.5 434.2 633.4 435 636.3C435.8 639.2 435.3 645.6 434 647.9C432.7 650.1 430.2 649.5 427.3 649.8C424.4 650.1 418.2 652.4 416.6 649.8Z" fill="#DEB887"/>
<path d="M418.6 638.2C418.8 636.4 420.2 634.9 421.5 634.3C422.8 633.6 425 633.5 426.3 634.3C427.6 635.1 429.2 637.4 429.2 639.2C429.2 641 427.8 644 426.3 645C424.9 646 421.8 646.1 420.5 645C419.2 643.9 418.4 640 418.6 638.2Z" fill="#FFDC00"/>
<path d="M389.6 670L389.6 653.6L436.9 653.6L436.9 625.6L450 625.6L450 670L389.6 670Z" fill="#fff"/>
</g>
<rect x="54.6" y="73.7" width="226" height="226.7" fill="none" stroke="#000" stroke-width="1.4"/>
<path d="M67.2 300.4v3M67.2 73.7v-3M79.7 300.4v3M79.7 73.7v-3M104.8 300.4v3M104.8 73.7v-3M117.4 300.4v3M117.4 73.7v-3M142.5 300.4v3M142.5 73.7v-3M155 300.4v3M155 73.7v-3M180.2 300.4v3M180.2 73.7v-3M192.7 300.4v3M192.7 73.7v-3M217.8 300.4v3M217.8 73.7v-3M230.4 300.4v3M230.4 73.7v-3M255.5 300.4v3M255.5 73.7v-3M268 300.4v3M268 73.7v-3" stroke="#555" stroke-width="0.9" fill="none"/>
<path d="M54.6 300.4v6M54.6 73.7v-6M92.3 300.4v6M92.3 73.7v-6M129.9 300.4v6M129.9 73.7v-6M167.6 300.4v6M167.6 73.7v-6M205.3 300.4v6M205.3 73.7v-6M242.9 300.4v6M242.9 73.7v-6M280.6 300.4v6M280.6 73.7v-6M54.6 73.7h-6M54.6 106.7h-6M54.6 128.5h-6M54.6 151.5h-6M54.6 177.8h-6M54.6 196.3h-6M54.6 210.8h-6M54.6 222.6h-6M54.6 241.2h-6M54.6 255.6h-6M54.6 277.3h-6M54.6 289.9h-6M54.6 300.4h-6M280.6 269.1h6M280.6 233.7h6M280.6 194.4h6M280.6 153.8h6M280.6 113.2h6" stroke="#000" stroke-width="1.1" fill="none"/>
<text transform="translate(54.6 318.4) scale(0.9 1)" font-size="8.8" text-anchor="middle">90N</text>
<text transform="translate(92.3 318.4) scale(0.9 1)" font-size="8.8" text-anchor="middle">60N</text>
<text transform="translate(129.9 318.4) scale(0.9 1)" font-size="8.8" text-anchor="middle">30N</text>
<text transform="translate(167.6 318.4) scale(0.9 1)" font-size="8.8" text-anchor="middle">0</text>
<text transform="translate(205.3 318.4) scale(0.9 1)" font-size="8.8" text-anchor="middle">30S</text>
<text transform="translate(242.9 318.4) scale(0.9 1)" font-size="8.8" text-anchor="middle">60S</text>
<text transform="translate(280.6 318.4) scale(0.9 1)" font-size="8.8" text-anchor="middle">90S</text>
<text transform="translate(42.3 76.9) scale(0.9 1)" font-size="8.8" text-anchor="end">30</text>
<text transform="translate(42.3 109.9) scale(0.9 1)" font-size="8.8" text-anchor="end">50</text>
<text transform="translate(42.3 131.7) scale(0.9 1)" font-size="8.8" text-anchor="end">70</text>
<text transform="translate(42.3 154.7) scale(0.9 1)" font-size="8.8" text-anchor="end">100</text>
<text transform="translate(42.3 181) scale(0.9 1)" font-size="8.8" text-anchor="end">150</text>
<text transform="translate(42.3 199.5) scale(0.9 1)" font-size="8.8" text-anchor="end">200</text>
<text transform="translate(42.3 214) scale(0.9 1)" font-size="8.8" text-anchor="end">250</text>
<text transform="translate(42.3 225.8) scale(0.9 1)" font-size="8.8" text-anchor="end">300</text>
<text transform="translate(42.3 244.4) scale(0.9 1)" font-size="8.8" text-anchor="end">400</text>
<text transform="translate(42.3 258.8) scale(0.9 1)" font-size="8.8" text-anchor="end">500</text>
<text transform="translate(42.3 280.5) scale(0.9 1)" font-size="8.8" text-anchor="end">700</text>
<text transform="translate(42.3 293.1) scale(0.9 1)" font-size="8.8" text-anchor="end">850</text>
<text transform="translate(42.3 303.6) scale(0.9 1)" font-size="8.8" text-anchor="end">1000</text>
<text transform="translate(292.1 272.3) scale(0.9 1)" font-size="8.8" text-anchor="start">4</text>
<text transform="translate(292.1 236.9) scale(0.9 1)" font-size="8.8" text-anchor="start">8</text>
<text transform="translate(292.1 197.6) scale(0.9 1)" font-size="8.8" text-anchor="start">12</text>
<text transform="translate(292.1 157) scale(0.9 1)" font-size="8.8" text-anchor="start">16</text>
<text transform="translate(292.1 116.4) scale(0.9 1)" font-size="8.8" text-anchor="start">20</text>
<text x="54.6" y="64.2" font-size="12.2" text-anchor="start">Temperature</text>
<text x="281.1" y="67.2" font-size="12" text-anchor="end">K</text>
<text x="167.6" y="45" font-size="13" text-anchor="middle">f1850c5_t6 (yrs 2-3)</text>
<text transform="translate(15.4 187) rotate(-90)" font-size="13.4" text-anchor="middle">Pressure (mb)</text>
<text transform="translate(316.9 187) rotate(-90)" font-size="13.4" text-anchor="middle">Height (km)</text>
<rect x="375.7" y="73.7" width="226.2" height="226.7" fill="none" stroke="#000" stroke-width="1.4"/>
<path d="M388.3 300.4v3M388.3 73.7v-3M400.8 300.4v3M400.8 73.7v-3M426 300.4v3M426 73.7v-3M438.5 300.4v3M438.5 73.7v-3M463.7 300.4v3M463.7 73.7v-3M476.2 300.4v3M476.2 73.7v-3M501.4 300.4v3M501.4 73.7v-3M513.9 300.4v3M513.9 73.7v-3M539.1 300.4v3M539.1 73.7v-3M551.6 300.4v3M551.6 73.7v-3M576.8 300.4v3M576.8 73.7v-3M589.3 300.4v3M589.3 73.7v-3" stroke="#555" stroke-width="0.9" fill="none"/>
<path d="M375.7 300.4v6M375.7 73.7v-6M413.4 300.4v6M413.4 73.7v-6M451.1 300.4v6M451.1 73.7v-6M488.8 300.4v6M488.8 73.7v-6M526.5 300.4v6M526.5 73.7v-6M564.2 300.4v6M564.2 73.7v-6M601.9 300.4v6M601.9 73.7v-6M375.7 73.7h-6M375.7 106.7h-6M375.7 128.5h-6M375.7 151.5h-6M375.7 177.8h-6M375.7 196.3h-6M375.7 210.8h-6M375.7 222.6h-6M375.7 241.2h-6M375.7 255.6h-6M375.7 277.3h-6M375.7 289.9h-6M375.7 300.4h-6M601.9 269.1h6M601.9 233.7h6M601.9 194.4h6M601.9 153.8h6M601.9 113.2h6" stroke="#000" stroke-width="1.1" fill="none"/>
<text transform="translate(375.7 318.4) scale(0.9 1)" font-size="8.8" text-anchor="middle">90N</text>
<text transform="translate(413.4 318.4) scale(0.9 1)" font-size="8.8" text-anchor="middle">60N</text>
<text transform="translate(451.1 318.4) scale(0.9 1)" font-size="8.8" text-anchor="middle">30N</text>
<text transform="translate(488.8 318.4) scale(0.9 1)" font-size="8.8" text-anchor="middle">0</text>
<text transform="translate(526.5 318.4) scale(0.9 1)" font-size="8.8" text-anchor="middle">30S</text>
<text transform="translate(564.2 318.4) scale(0.9 1)" font-size="8.8" text-anchor="middle">60S</text>
<text transform="translate(601.9 318.4) scale(0.9 1)" font-size="8.8" text-anchor="middle">90S</text>
<text transform="translate(363.4 76.9) scale(0.9 1)" font-size="8.8" text-anchor="end">30</text>
<text transform="translate(363.4 109.9) scale(0.9 1)" font-size="8.8" text-anchor="end">50</text>
<text transform="translate(363.4 131.7) scale(0.9 1)" font-size="8.8" text-anchor="end">70</text>
<text transform="translate(363.4 154.7) scale(0.9 1)" font-size="8.8" text-anchor="end">100</text>
<text transform="translate(363.4 181) scale(0.9 1)" font-size="8.8" text-anchor="end">150</text>
<text transform="translate(363.4 199.5) scale(0.9 1)" font-size="8.8" text-anchor="end">200</text>
<text transform="translate(363.4 214) scale(0.9 1)" font-size="8.8" text-anchor="end">250</text>
<text transform="translate(363.4 225.8) scale(0.9 1)" font-size="8.8" text-anchor="end">300</text>
<text transform="translate(363.4 244.4) scale(0.9 1)" font-size="8.8" text-anchor="end">400</text>
<text transform="translate(363.4 258.8) scale(0.9 1)" font-size="8.8" text-anchor="end">500</text>
<text transform="translate(363.4 280.5) scale(0.9 1)" font-size="8.8" text-anchor="end">700</text>
<text transform="translate(363.4 293.1) scale(0.9 1)" font-size="8.8" text-anchor="end">850</text>
<text transform="translate(363.4 303.6) scale(0.9 1)" font-size="8.8" text-anchor="end">1000</text>
<text transform="translate(613.4 272.3) scale(0.9 1)" font-size="8.8" text-anchor="start">4</text>
<text transform="translate(613.4 236.9) scale(0.9 1)" font-size="8.8" text-anchor="start">8</text>
<text transform="translate(613.4 197.6) scale(0.9 1)" font-size="8.8" text-anchor="start">12</text>
<text transform="translate(613.4 157) scale(0.9 1)" font-size="8.8" text-anchor="start">16</text>
<text transform="translate(613.4 116.4) scale(0.9 1)" font-size="8.8" text-anchor="start">20</text>
<text x="375.7" y="64.2" font-size="12.2" text-anchor="start">Temperature</text>
<text x="602.4" y="67.2" font-size="12" text-anchor="end">K</text>
<text x="488.8" y="45" font-size="13" text-anchor="middle">ERAI</text>
<text transform="translate(336.4 187) rotate(-90)" font-size="13.4" text-anchor="middle">Pressure (mb)</text>
<text transform="translate(637.9 187) rotate(-90)" font-size="13.4" text-anchor="middle">Height (km)</text>
<rect x="215.1" y="432.4" width="226.1" height="226.4" fill="none" stroke="#000" stroke-width="1.4"/>
<path d="M227.6 658.8v3M227.6 432.4v-3M240.2 658.8v3M240.2 432.4v-3M265.3 658.8v3M265.3 432.4v-3M277.8 658.8v3M277.8 432.4v-3M303 658.8v3M303 432.4v-3M315.5 658.8v3M315.5 432.4v-3M340.6 658.8v3M340.6 432.4v-3M353.2 658.8v3M353.2 432.4v-3M378.3 658.8v3M378.3 432.4v-3M390.9 658.8v3M390.9 432.4v-3M416 658.8v3M416 432.4v-3M428.5 658.8v3M428.5 432.4v-3" stroke="#555" stroke-width="0.9" fill="none"/>
<path d="M215.1 658.8v6M215.1 432.4v-6M252.7 658.8v6M252.7 432.4v-6M290.4 658.8v6M290.4 432.4v-6M328.1 658.8v6M328.1 432.4v-6M365.8 658.8v6M365.8 432.4v-6M403.4 658.8v6M403.4 432.4v-6M441.1 658.8v6M441.1 432.4v-6M215.1 432.4h-6M215.1 465.4h-6M215.1 487.1h-6M215.1 510.1h-6M215.1 536.3h-6M215.1 554.9h-6M215.1 569.3h-6M215.1 581.1h-6M215.1 599.6h-6M215.1 614h-6M215.1 635.8h-6M215.1 648.3h-6M215.1 658.8h-6M441.1 627.6h6M441.1 592.2h6M441.1 552.9h6M441.1 512.4h6M441.1 471.9h6" stroke="#000" stroke-width="1.1" fill="none"/>
<text transform="translate(215.1 676.8) scale(0.9 1)" font-size="8.8" text-anchor="middle">90N</text>
<text transform="translate(252.7 676.8) scale(0.9 1)" font-size="8.8" text-anchor="middle">60N</text>
<text transform="translate(290.4 676.8) scale(0.9 1)" font-size="8.8" text-anchor="middle">30N</text>
<text transform="translate(328.1 676.8) scale(0.9 1)" font-size="8.8" text-anchor="middle">0</text>
<text transform="translate(365.8 676.8) scale(0.9 1)" font-size="8.8" text-anchor="middle">30S</text>
<text transform="translate(403.4 676.8) scale(0.9 1)" font-size="8.8" text-anchor="middle">60S</text>
<text transform="translate(441.1 676.8) scale(0.9 1)" font-size="8.8" text-anchor="middle">90S</text>
<text transform="translate(202.8 435.6) scale(0.9 1)" font-size="8.8" text-anchor="end">30</text>
<text transform="translate(202.8 468.6) scale(0.9 1)" font-size="8.8" text-anchor="end">50</text>
<text transform="translate(202.8 490.3) scale(0.9 1)" font-size="8.8" text-anchor="end">70</text>
<text transform="translate(202.8 513.3) scale(0.9 1)" font-size="8.8" text-anchor="end">100</text>
<text transform="translate(202.8 539.5) scale(0.9 1)" font-size="8.8" text-anchor="end">150</text>
<text transform="translate(202.8 558.1) scale(0.9 1)" font-size="8.8" text-anchor="end">200</text>
<text transform="translate(202.8 572.5) scale(0.9 1)" font-size="8.8" text-anchor="end">250</text>
<text transform="translate(202.8 584.3) scale(0.9 1)" font-size="8.8" text-anchor="end">300</text>
<text transform="translate(202.8 602.8) scale(0.9 1)" font-size="8.8" text-anchor="end">400</text>
<text transform="translate(202.8 617.2) scale(0.9 1)" font-size="8.8" text-anchor="end">500</text>
<text transform="translate(202.8 639) scale(0.9 1)" font-size="8.8" text-anchor="end">700</text>
<text transform="translate(202.8 651.5) scale(0.9 1)" font-size="8.8" text-anchor="end">850</text>
<text transform="translate(202.8 662) scale(0.9 1)" font-size="8.8" text-anchor="end">1000</text>
<text transform="translate(452.6 630.8) scale(0.9 1)" font-size="8.8" text-anchor="start">4</text>
<text transform="translate(452.6 595.4) scale(0.9 1)" font-size="8.8" text-anchor="start">8</text>
<text transform="translate(452.6 556.1) scale(0.9 1)" font-size="8.8" text-anchor="start">12</text>
<text transform="translate(452.6 515.6) scale(0.9 1)" font-size="8.8" text-anchor="start">16</text>
<text transform="translate(452.6 475.1) scale(0.9 1)" font-size="8.8" text-anchor="start">20</text>
<text x="215.1" y="422.9" font-size="12.2" text-anchor="start">Temperature</text>
<text x="441.6" y="425.9" font-size="12" text-anchor="end">K</text>
<text x="328.1" y="403.3" font-size="13" text-anchor="middle">f1850c5_t6 - ERAI</text>
<text transform="translate(175.3 545.6) rotate(-90)" font-size="13.4" text-anchor="middle">Pressure (mb)</text>
<text transform="translate(477.7 545.6) rotate(-90)" font-size="13.4" text-anchor="middle">Height (km)</text>
<text x="323.3" y="18.7" font-size="19.5" text-anchor="middle">DJF</text>
<text x="167.5" y="330.8" font-size="10.3" text-anchor="middle">MIN = 190.89&#160;&#160;MAX = 298.41</text>
<text x="488.5" y="330.8" font-size="10.3" text-anchor="middle">MIN = 190.59&#160;&#160;MAX = 299.48</text>
<text x="532.8" y="455.7" font-size="10.3" text-anchor="middle">MIN = -19.49&#160;&#160;MAX =&#160;&#160;&#160;6.72</text>
<rect x="57.6" y="341.3" width="13.7" height="20.1" fill="#9370DB"/>
<rect x="71.3" y="341.3" width="13.7" height="20.1" fill="#0000CD"/>
<rect x="85.1" y="341.3" width="13.7" height="20.1" fill="#4169E1"/>
<rect x="98.8" y="341.3" width="13.7" height="20.1" fill="#7799EE"/>
<rect x="112.6" y="341.3" width="13.7" height="20.1" fill="#B0E0E6"/>
<rect x="126.3" y="341.3" width="13.7" height="20.1" fill="#20B2AA"/>
<rect x="140.1" y="341.3" width="13.7" height="20.1" fill="#BEEE66"/>
<rect x="153.8" y="341.3" width="13.7" height="20.1" fill="#96BE32"/>
<rect x="167.6" y="341.3" width="13.7" height="20.1" fill="#F5E4BC"/>
<rect x="181.3" y="341.3" width="13.7" height="20.1" fill="#DEB887"/>
<rect x="195" y="341.3" width="13.7" height="20.1" fill="#FFDC00"/>
<rect x="208.8" y="341.3" width="13.7" height="20.1" fill="#FFA500"/>
<rect x="222.5" y="341.3" width="13.7" height="20.1" fill="#FF4500"/>
<rect x="236.3" y="341.3" width="13.7" height="20.1" fill="#B22222"/>
<rect x="250" y="341.3" width="13.7" height="20.1" fill="#FFB6C1"/>
<rect x="263.8" y="341.3" width="13.7" height="20.1" fill="#FF1493"/>
<path d="M71.3 341.3V361.4M85.1 341.3V361.4M98.8 341.3V361.4M112.6 341.3V361.4M126.3 341.3V361.4M140.1 341.3V361.4M153.8 341.3V361.4M167.6 341.3V361.4M181.3 341.3V361.4M195 341.3V361.4M208.8 341.3V361.4M222.5 341.3V361.4M236.3 341.3V361.4M250 341.3V361.4M263.8 341.3V361.4" stroke="#222" stroke-width="1" fill="none"/>
<rect x="57.6" y="341.3" width="219.9" height="20.1" fill="none" stroke="#222" stroke-width="1"/>
<text x="71.3" y="375.4" font-size="10" text-anchor="middle">180</text>
<text x="98.8" y="375.4" font-size="10" text-anchor="middle">190</text>
<text x="126.3" y="375.4" font-size="10" text-anchor="middle">210</text>
<text x="153.8" y="375.4" font-size="10" text-anchor="middle">230</text>
<text x="181.3" y="375.4" font-size="10" text-anchor="middle">250</text>
<text x="208.8" y="375.4" font-size="10" text-anchor="middle">270</text>
<text x="236.3" y="375.4" font-size="10" text-anchor="middle">290</text>
<text x="263.8" y="375.4" font-size="10" text-anchor="middle">300</text>
<rect x="379.1" y="341.3" width="13.7" height="20.1" fill="#9370DB"/>
<rect x="392.8" y="341.3" width="13.7" height="20.1" fill="#0000CD"/>
<rect x="406.5" y="341.3" width="13.7" height="20.1" fill="#4169E1"/>
<rect x="420.3" y="341.3" width="13.7" height="20.1" fill="#7799EE"/>
<rect x="434" y="341.3" width="13.7" height="20.1" fill="#B0E0E6"/>
<rect x="447.7" y="341.3" width="13.7" height="20.1" fill="#20B2AA"/>
<rect x="461.4" y="341.3" width="13.7" height="20.1" fill="#BEEE66"/>
<rect x="475.1" y="341.3" width="13.7" height="20.1" fill="#96BE32"/>
<rect x="488.9" y="341.3" width="13.7" height="20.1" fill="#F5E4BC"/>
<rect x="502.6" y="341.3" width="13.7" height="20.1" fill="#DEB887"/>
<rect x="516.3" y="341.3" width="13.7" height="20.1" fill="#FFDC00"/>
<rect x="530" y="341.3" width="13.7" height="20.1" fill="#FFA500"/>
<rect x="543.7" y="341.3" width="13.7" height="20.1" fill="#FF4500"/>
<rect x="557.4" y="341.3" width="13.7" height="20.1" fill="#B22222"/>
<rect x="571.2" y="341.3" width="13.7" height="20.1" fill="#FFB6C1"/>
<rect x="584.9" y="341.3" width="13.7" height="20.1" fill="#FF1493"/>
<path d="M392.8 341.3V361.4M406.5 341.3V361.4M420.3 341.3V361.4M434 341.3V361.4M447.7 341.3V361.4M461.4 341.3V361.4M475.1 341.3V361.4M488.9 341.3V361.4M502.6 341.3V361.4M516.3 341.3V361.4M530 341.3V361.4M543.7 341.3V361.4M557.4 341.3V361.4M571.2 341.3V361.4M584.9 341.3V361.4" stroke="#222" stroke-width="1" fill="none"/>
<rect x="379.1" y="341.3" width="219.5" height="20.1" fill="none" stroke="#222" stroke-width="1"/>
<text x="392.8" y="375.4" font-size="10" text-anchor="middle">180</text>
<text x="420.3" y="375.4" font-size="10" text-anchor="middle">190</text>
<text x="447.7" y="375.4" font-size="10" text-anchor="middle">210</text>
<text x="475.1" y="375.4" font-size="10" text-anchor="middle">230</text>
<text x="502.6" y="375.4" font-size="10" text-anchor="middle">250</text>
<text x="530" y="375.4" font-size="10" text-anchor="middle">270</text>
<text x="557.4" y="375.4" font-size="10" text-anchor="middle">290</text>
<text x="584.9" y="375.4" font-size="10" text-anchor="middle">300</text>
<rect x="516" y="645.3" width="22.5" height="11.4" fill="#9370DB"/>
<rect x="516" y="633.9" width="22.5" height="11.4" fill="#0000CD"/>
<rect x="516" y="622.5" width="22.5" height="11.4" fill="#4169E1"/>
<rect x="516" y="611.1" width="22.5" height="11.4" fill="#7799EE"/>
<rect x="516" y="599.7" width="22.5" height="11.4" fill="#B0E0E6"/>
<rect x="516" y="588.3" width="22.5" height="11.4" fill="#20B2AA"/>
<rect x="516" y="576.9" width="22.5" height="11.4" fill="#BEEE66"/>
<rect x="516" y="565.5" width="22.5" height="11.4" fill="#96BE32"/>
<rect x="516" y="554" width="22.5" height="11.4" fill="#F5E4BC"/>
<rect x="516" y="542.6" width="22.5" height="11.4" fill="#DEB887"/>
<rect x="516" y="531.2" width="22.5" height="11.4" fill="#FFDC00"/>
<rect x="516" y="519.8" width="22.5" height="11.4" fill="#FFA500"/>
<rect x="516" y="508.4" width="22.5" height="11.4" fill="#FF4500"/>
<rect x="516" y="497" width="22.5" height="11.4" fill="#B22222"/>
<rect x="516" y="485.6" width="22.5" height="11.4" fill="#FFB6C1"/>
<rect x="516" y="474.2" width="22.5" height="11.4" fill="#FF1493"/>
<path d="M516 645.3H538.5M516 633.9H538.5M516 622.5H538.5M516 611.1H538.5M516 599.7H538.5M516 588.3H538.5M516 576.9H538.5M516 565.5H538.5M516 554H538.5M516 542.6H538.5M516 531.2H538.5M516 519.8H538.5M516 508.4H538.5M516 497H538.5M516 485.6H538.5" stroke="#222" stroke-width="1" fill="none"/>
<rect x="516" y="474.2" width="22.5" height="182.5" fill="none" stroke="#222" stroke-width="1"/>
<text transform="translate(543.5 650.3) scale(0.92 1)" font-size="10.5" text-anchor="start">-9</text>
<text transform="translate(543.5 638.9) scale(0.92 1)" font-size="10.5" text-anchor="start">-7</text>
<text transform="translate(543.5 627.5) scale(0.92 1)" font-size="10.5" text-anchor="start">-5</text>
<text transform="translate(543.5 616.1) scale(0.92 1)" font-size="10.5" text-anchor="start">-4</text>
<text transform="translate(543.5 604.7) scale(0.92 1)" font-size="10.5" text-anchor="start">-3</text>
<text transform="translate(543.5 593.3) scale(0.92 1)" font-size="10.5" text-anchor="start">-2</text>
<text transform="translate(543.5 581.9) scale(0.92 1)" font-size="10.5" text-anchor="start">-1</text>
<text transform="translate(543.5 570.5) scale(0.92 1)" font-size="10.5" text-anchor="start">0</text>
<text transform="translate(543.5 559) scale(0.92 1)" font-size="10.5" text-anchor="start">1</text>
<text transform="translate(543.5 547.6) scale(0.92 1)" font-size="10.5" text-anchor="start">2</text>
<text transform="translate(543.5 536.2) scale(0.92 1)" font-size="10.5" text-anchor="start">3</text>
<text transform="translate(543.5 524.8) scale(0.92 1)" font-size="10.5" text-anchor="start">4</text>
<text transform="translate(543.5 513.4) scale(0.92 1)" font-size="10.5" text-anchor="start">5</text>
<text transform="translate(543.5 502) scale(0.92 1)" font-size="10.5" text-anchor="start">7</text>
<text transform="translate(543.5 490.6) scale(0.92 1)" font-size="10.5" text-anchor="start">9</text>
</svg></body></html>
